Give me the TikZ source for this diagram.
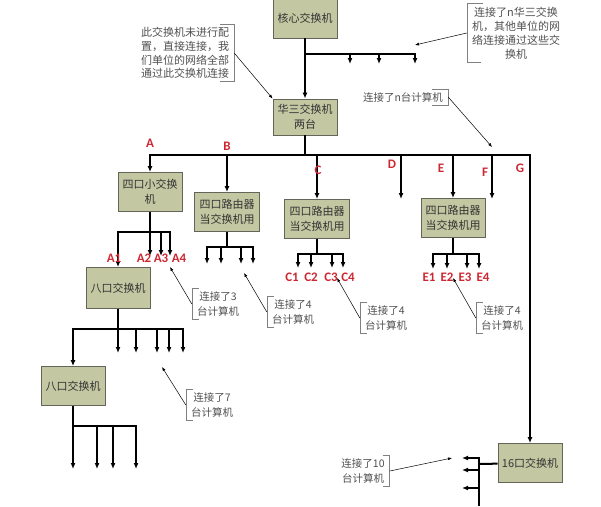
\documentclass[tikz,border=0pt]{standalone}
\usepackage{fontspec}
\setmainfont{Noto Sans CJK SC}
\newfontfamily\lblfont{Carlito}
\usetikzlibrary{arrows.meta,positioning}
\definecolor{boxfill}{RGB}{196,200,162}
\definecolor{boxline}{RGB}{100,100,88}
\definecolor{lblred}{RGB}{205,40,50}
\definecolor{notegray}{RGB}{80,80,80}
\tikzstyle{sw}=[draw=boxline, fill=boxfill, line width=0.9pt, minimum width=64pt, minimum height=39pt, text=black!80, align=center, font=\fontsize{11}{15}\selectfont, inner sep=1pt]
\tikzstyle{lbl}=[text=lblred, font=\lblfont\bfseries\fontsize{13}{13}\selectfont, inner sep=0pt]
\tikzstyle{note}=[text=notegray, align=center, font=\fontsize{10.5}{15}\selectfont, inner xsep=5pt, inner ysep=3pt]
\tikzstyle{brk}=[draw=gray, line width=0.6pt]
\tikzstyle{pt}=[-{Latex[length=4pt,width=3pt]}, line width=0.5pt]
\tikzstyle{wire}=[line width=1.2pt]

\begin{document}
\begin{tikzpicture}[x=1pt,y=-1pt,>={Latex[length=6pt,width=5pt]}]
\useasboundingbox (0,0) rectangle (601,506);

% switches and routers
\node[sw, minimum height=40pt] (core) at (305,18) {核心交换机};
\node[sw, minimum height=36pt] (h3c) at (305,117) {华三交换机\\两台};
\node[sw] (swA) at (150,192) {四口小交换\\机};
\node[sw, minimum width=65pt] (rtB) at (227,212) {四口路由器\\当交换机用};
\node[sw, minimum width=65pt] (rtC) at (317,219) {四口路由器\\当交换机用};
\node[sw] (rtE) at (453,218) {四口路由器\\当交换机用};
\node[sw, minimum height=41pt] (sw8a) at (118,288) {八口交换机};
\node[sw] (sw8b) at (73,386) {八口交换机};
\node[sw] (sw16) at (530,463) {16口交换机};

% core -> h3c, other h3c switches
\draw[->,wire] (core) -- (h3c);
\coordinate (jT) at (305,54);
\foreach \x [count=\i] in {350,379,415} \coordinate (t\i) at (\x,64);
\foreach \i in {1,2,3} \draw[->,wire] (jT) -| (t\i);

% main bus
\coordinate (bus) at (305,155);
\coordinate (pD) at (401,199);
\coordinate (pF) at (492,199);
\draw[wire] (h3c) -- (bus);
\foreach \n in {swA,rtB,rtC,pD,rtE,pF,sw16} \draw[->,wire] (bus) -| (\n);

% A
\coordinate (jA) at (150,232);
\foreach \x [count=\i] in {150,161,170} \coordinate (a\i) at (\x,256);
\foreach \n in {sw8a,a1,a2,a3} \draw[->,wire] (swA) -- (jA) -| (\n);
% B
\coordinate (jB) at (227,247);
\foreach \x [count=\i] in {207,221,241,253} \coordinate (b\i) at (\x,264);
\foreach \i in {1,...,4} \draw[->,wire] (rtB) -- (jB) -| (b\i);
% C
\coordinate (jC) at (317,254);
\foreach \x [count=\i] in {298,311,332,343} \coordinate (c\i) at (\x,268);
\foreach \i in {1,...,4} \draw[->,wire] (rtC) -- (jC) -| (c\i);
% E
\coordinate (jE) at (453,254);
\foreach \x [count=\i] in {433,447,467,479} \coordinate (e\i) at (\x,269);
\foreach \i in {1,...,4} \draw[->,wire] (rtE) -- (jE) -| (e\i);
% eight port switches
\coordinate (j8a) at (118,329);
\foreach \x [count=\i] in {118,136,157,169,183} \coordinate (p\i) at (\x,353);
\foreach \n in {sw8b,p1,p2,p3,p4,p5} \draw[->,wire] (sw8a) -- (j8a) -| (\n);
\coordinate (j8b) at (73,426);
\foreach \x [count=\i] in {73,97,113,136} \coordinate (q\i) at (\x,469);
\foreach \i in {1,...,4} \draw[->,wire] (sw8b) -- (j8b) -| (q\i);
% 16 port switch
\coordinate (j16) at (479,464);
\coordinate (vTop) at (479,457);
\coordinate (vBot) at (479,506);
\draw[line width=2pt] (sw16) -- (j16);
\draw[wire] (vTop) -- (vBot);
\foreach \y [count=\i] in {458,470,488} \coordinate (s\i) at (462,\y);
\foreach \i in {1,2,3} \draw[->,wire] (s\i -| j16) -- (s\i);

% red labels
\node[lbl] (lA) at (150,143) {A};
\node[lbl] (lB) at (227,146) {B};
\node[lbl] (lC) at (318,170) {C};
\node[lbl] (lD) at (392,164) {D};
\node[lbl] (lE) at (441,168) {E};
\node[lbl] (lF) at (485,172) {F};
\node[lbl] (lG) at (520,168) {G};
\foreach \x/\t in {114/A1,144/A2,161/A3,179/A4} \node[lbl] (l\t) at (\x,258) {\t};
\foreach \x/\t in {292/C1,311/C2,331/C3,348/C4,429/E1,447/E2,465/E3,483/E4} \node[lbl] (l\t) at (\x,277) {\t};

% notes
\node[note, font=\fontsize{11}{13.6}\selectfont] (nTL) at (185,53) {此交换机未进行配\\置，直接连接，我\\们单位的网络全部\\通过此交换机连接};
\draw[brk] ([xshift=-14pt]nTL.north east) -- (nTL.north east) -- (nTL.south east) -- ([xshift=-14pt]nTL.south east);
\draw[pt] (nTL.east) -- (h3c.north west);

\node[note, font=\fontsize{11}{14}\selectfont] (nTR) at (516,33) {连接了n华三交换\\机，其他单位的网\\络连接通过这些交\\换机};
\coordinate (aTR) at (415,45);
\draw[brk] ([xshift=16pt]nTR.north west) -- (nTR.north west) -- (nTR.south west) -- ([xshift=14pt]nTR.south west);
\draw[pt] (nTR.west) -- (aTR);

\node[note] (nN) at (403,97) {连接了n台计算机};
\coordinate (aN) at (492,147);
\draw[brk] ([xshift=-16pt]nN.north east) -- (nN.north east) -- (nN.south east) -- ([xshift=-16pt]nN.south east);
\draw[pt] (nN.east) -- (aN);

\node[note] (n3) at (218,304) {连接了3\\台计算机};
\coordinate (a3t) at (170,267);
\node[note] (nB) at (293,312) {连接了4\\台计算机};
\coordinate (aB) at (244,273);
\node[note] (nC) at (386,318) {连接了4\\台计算机};
\coordinate (aC) at (337,278);
\node[note] (nE) at (502,318) {连接了4\\台计算机};
\coordinate (aE) at (453,278);
\node[note] (n7) at (212,405) {连接了7\\台计算机};
\coordinate (a7) at (162,367);
\foreach \n/\a in {n3/a3t,nB/aB,nC/aC,nE/aE,n7/a7} {
  \draw[brk] ([xshift=7pt]\n.north west) -- (\n.north west) -- (\n.south west) -- ([xshift=7pt]\n.south west);
  \draw[pt] (\n.west) -- (\a);
}

\node[note] (n10) at (363,471) {连接了10\\台计算机};
\coordinate (a10) at (452,458);
\draw[brk] ([xshift=-7pt]n10.north east) -- (n10.north east) -- (n10.south east) -- ([xshift=-7pt]n10.south east);
\draw[pt] (n10.east) -- (a10);
\end{tikzpicture}
\end{document}
